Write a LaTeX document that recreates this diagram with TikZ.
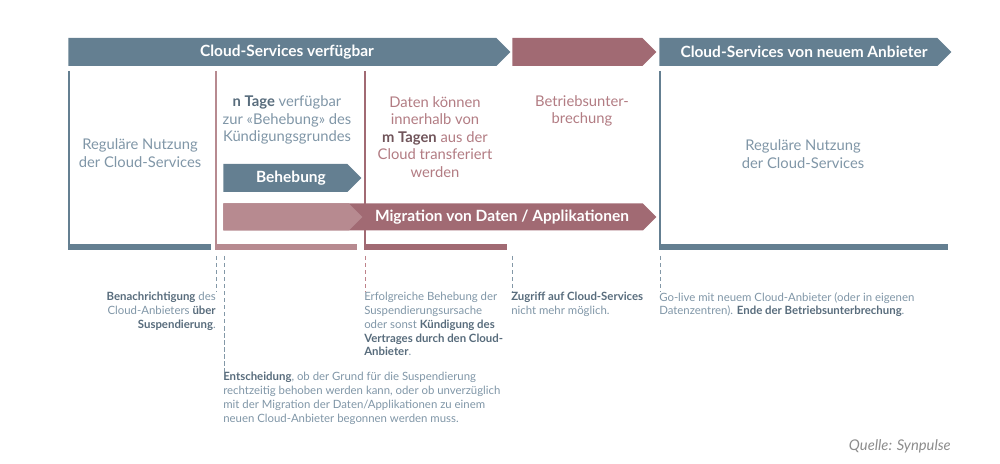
\documentclass[tikz,border=0pt]{standalone}
\usepackage{fontspec}
\setmainfont{Lato}
\usepackage{xcolor}
\definecolor{slateblue}{RGB}{100,127,145}
\definecolor{dustyred}{RGB}{161,106,115}
\definecolor{palered}{RGB}{183,138,144}
\definecolor{paleblue}{RGB}{128,150,167}
\definecolor{darkslate}{RGB}{88,108,124}
\definecolor{mauvetext}{RGB}{178,124,131}
\definecolor{darkmauve}{RGB}{112,84,90}
\definecolor{guidered}{RGB}{190,130,138}
\usepackage{tikz}
\usetikzlibrary{shapes.symbols}
\newcommand{\pxunit}{0.025cm}
\newcommand{\heightband}{28*\pxunit}
\newcommand{\hilite}[1]{\textbf{\color{darkslate}#1}}
\tikzset{
    band/.style={signal, signal to=east, anchor=west, inner sep=0pt, minimum height=\heightband},
    bandtext/.style={text=white, font=\bfseries\fontsize{11}{13}\selectfont},
    phaseline/.style={line width=2*\pxunit},
    phasebar/.style={line width=6*\pxunit},
    phasetext/.style={align=center, inner sep=0pt, font=\fontsize{10.5}{12.5}\selectfont},
    note/.style={inner sep=0pt, text=paleblue, font=\fontsize{8.1}{9.8}\selectfont},
    guide/.style={densely dashed, line width=0.6pt, slateblue!80}
}
\begin{document}
\begin{tikzpicture}[x=\pxunit, y=-\pxunit]
      \useasboundingbox (0,0) rectangle (1000,464);

      % phases on top
      \path
          (68,52) node[band, fill=slateblue, minimum width=442*\pxunit] (avail) {}
          (512,52) node[band, fill=dustyred, minimum width=144*\pxunit] (outage) {}
          (659,52) node[band, fill=slateblue, minimum width=292*\pxunit] (newprov) {}
          (287,52) node[bandtext] (avail-text) {Cloud-Services verfügbar}
          (804,52) node[bandtext] (newprov-text) {Cloud-Services von neuem Anbieter};

      % frames
      \draw[phaseline, slateblue] (69,71) -- (69,250);
      \draw[phasebar, slateblue] (68,247) -- (211,247);
      \draw[phaseline, palered] (216,71) -- (216,250);
      \draw[phasebar, palered] (215,247) -- (357,247);
      \draw[phaseline, dustyred] (365,71) -- (365,250);
      \draw[phasebar, dustyred] (364,247) -- (507,247);
      \draw[phaseline, slateblue] (660,71) -- (660,250);
      \draw[phasebar, slateblue] (659,247) -- (948,247);

      % inner arrows
      \path
          (223,217) node[band, fill=dustyred, minimum width=433*\pxunit, minimum height=27*\pxunit] (migr) {}
          (223,217) node[band, fill=palered, minimum width=139*\pxunit, minimum height=27*\pxunit] (migr-start) {}
          (502,217) node[bandtext] (migr-text) {Migration von Daten / Applikationen}
          (223,178) node[band, fill=slateblue, minimum width=138*\pxunit] (fix) {}
          (291,178) node[bandtext] (fix-text) {Behebung};

      % texts in the phases
      \path
          (140,153) node[phasetext, text=paleblue] (regular-old) {Reguläre Nutzung\\der Cloud-Services}
          (287,120) node[phasetext, text=paleblue] (grace) {\textbf{\color{darkslate}n Tage} verfügbar\\zur «Behebung» des\\Kündigungsgrundes}
          (435,137) node[phasetext, text=mauvetext] (transfer) {Daten können\\innerhalb von\\\textbf{\color{darkmauve}m Tagen} aus der\\Cloud transferiert\\werden}
          (582,111) node[phasetext, text=mauvetext] (interrupt) {Betriebsunter-\\brechung}
          (803,154) node[phasetext, text=paleblue] (regular-new) {Reguläre Nutzung\\der Cloud-Services};

      % notes below
      \path
          (216,256) coordinate (t-notify)
          (224,256) coordinate (t-decide)
          (365,256) coordinate (t-resolve)
          (512,256) coordinate (t-cutoff)
          (660,256) coordinate (t-golive)
          (216,292) node[note, anchor=north east, align=right] (notify) {\hilite{Benachrichtigung} des\\Cloud-Anbieters \hilite{über}\\\hilite{Suspendierung}.}
          (223,372) node[note, anchor=north west, align=left] (decide) {\hilite{Entscheidung}, ob der Grund für die Suspendierung\\rechtzeitig behoben werden kann, oder ob unverzüglich\\mit der Migration der Daten/Applikationen zu einem\\neuen Cloud-Anbieter begonnen werden muss.}
          (364,292) node[note, anchor=north west, align=left] (resolve) {Erfolgreiche Behebung der\\Suspendierungsursache\\oder sonst \hilite{Kündigung des}\\\hilite{Vertrages durch den Cloud-}\\\hilite{Anbieter}.}
          (511,292) node[note, anchor=north west, align=left] (cutoff) {\hilite{Zugriff auf Cloud-Services}\\nicht mehr möglich.}
          (659,292) node[note, anchor=north west, align=left] (golive) {Go-live mit neuem Cloud-Anbieter (oder in eigenen\\Datenzentren). \hilite{Ende der Betriebsunterbrechung}.}
          (951,446) node[anchor=east, inner sep=0pt, text=black!45, font=\itshape\fontsize{10.5}{12}\selectfont] (source) {Quelle: Synpulse};

      \draw[guide] (t-notify) -- (notify.north east);
      \draw[guide] (t-decide) -- (t-decide |- decide.north);
      \draw[guide, guidered] (t-resolve) -- (t-resolve |- resolve.north);
      \draw[guide] (t-cutoff) -- (t-cutoff |- cutoff.north);
      \draw[guide] (t-golive) -- (t-golive |- golive.north);
    \end{tikzpicture}
\end{document}
